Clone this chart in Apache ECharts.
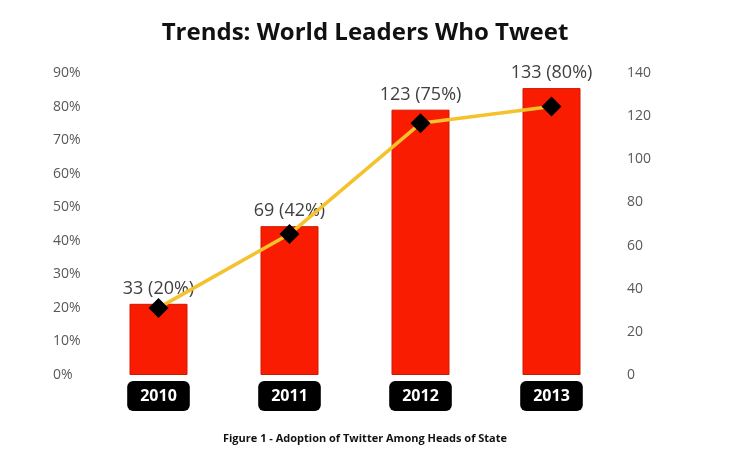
<!DOCTYPE html>
<html><head><meta charset="utf-8">
<script src="https://cdn.jsdelivr.net/npm/echarts@6/dist/echarts.min.js"></script>
<style>html,body{margin:0;padding:0;background:#fff}#c{width:730px;height:468px}</style>
</head><body><div id="c"></div>
<script>
const years = ['2010','2011','2012','2013'];
const counts = [33, 69, 123, 133];
const percents = [20, 42, 75, 80];
const pctTicks = [0,10,20,30,40,50,60,70,80,90];
const chart = echarts.init(document.getElementById('c'));
chart.setOption({
  backgroundColor:'#fff',
  title:[{text:'Trends: World Leaders Who Tweet',left:'center',top:16,textStyle:{fontFamily:'Open Sans',fontWeight:'bold',fontSize:24,color:'#111'}},
         {text:'Figure 1 - Adoption of Twitter Among Heads of State',left:'center',top:428,textStyle:{fontFamily:'Open Sans',fontWeight:'bold',fontSize:11,color:'#111'}}],
  grid:{left:93,right:113,top:73,bottom:93},
  xAxis:{type:'category',data:years,axisLine:{show:false},axisTick:{show:false},
    axisLabel:{margin:6,backgroundColor:'#000',color:'#fff',fontFamily:'Open Sans',fontWeight:'bold',fontSize:16,padding:[7,13,7,13],borderRadius:6}},
  yAxis:[{type:'value',min:0,max:90,interval:10,splitLine:{show:false},axisLine:{show:false},axisTick:{show:false},
    axisLabel:{formatter:'{value}%',color:'#595959',fontFamily:'Open Sans',fontSize:14,margin:40,align:'left'}},
    {type:'value',min:0,max:140,interval:20,splitLine:{show:false},axisLine:{show:false},axisTick:{show:false},
    axisLabel:{color:'#595959',fontFamily:'Open Sans',fontSize:14,margin:10}}],
  series:[
    {type:'bar',yAxisIndex:1,data:counts,barWidth:58,itemStyle:{color:'#fa1c00',borderColor:'#d01800',borderWidth:1},
     label:{show:true,position:'top',distance:6,fontFamily:'Open Sans',fontSize:18,color:'#404040',
       formatter:p=>counts[p.dataIndex]+' ('+percents[p.dataIndex]+'%)'},z:1},
    {type:'line',yAxisIndex:0,data:percents,symbol:'diamond',symbolSize:20,itemStyle:{color:'#000'},
     lineStyle:{color:'#f4c22b',width:3.5},z:3}
  ]
});
</script></body></html>
